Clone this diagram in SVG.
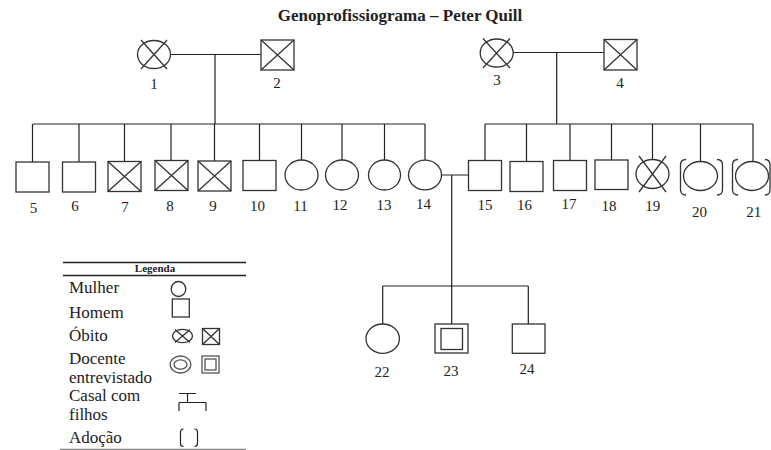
<svg xmlns="http://www.w3.org/2000/svg" width="771" height="450" viewBox="0 0 771 450" font-family="'Liberation Serif', 'Times New Roman', 'DejaVu Serif', serif">
<style>
.s{fill:none;stroke:#333;stroke-width:1.3}
.c{fill:none;stroke:#222;stroke-width:1.2}
.g{fill:none;stroke:#555;stroke-width:1.3}
text{font-family:"Liberation Serif","Times New Roman","DejaVu Serif",serif;fill:#222}
.t{font-size:17px;font-weight:bold;text-anchor:middle}
.n{font-size:15px;text-anchor:middle}
.l{font-size:17px}
.h{font-size:11px;font-weight:bold;text-anchor:middle}
</style>
<rect width="771" height="450" fill="#fff"/>
<text class="t" x="400" y="21">Genoprofissiograma – Peter Quill</text>
<g id="connectors" class="c">
<path d="M170.5,54.5H261M215,54.5V124M33,124H425"/>
<path d="M32.5,124V162M79,124V162M124.5,124V161.5M171,124V160.5M214.5,124V161M259.5,124V160.5M301.5,124V160M342,124V160M384.5,124V160M425,124V160"/>
<path d="M513,52.5H604M556.7,52.5V124M485,124H753"/>
<path d="M485,124V160.5M526.5,124V161.5M570,124V160.5M611.5,124V160M652.5,124V159.5M700.5,124V161.5M753,124V161.5"/>
<path d="M441.5,175H468.5M451.7,175V324M382.7,286H528.3M382.7,286V324M528.3,286V324"/>
</g>
<g id="n1"><ellipse class="s" cx="154" cy="54.5" rx="16.5" ry="14"/><path class="s" d="M141,40L167,69M167,40L141,69"/><text class="n" x="154" y="89">1</text></g>
<g id="n2"><rect class="s" x="261" y="40" width="33" height="30"/><path class="s" d="M261,40L294,70M294,40L261,70"/><text class="n" x="277" y="88">2</text></g>
<g id="n3"><ellipse class="s" cx="496.7" cy="53" rx="16.5" ry="14"/><path class="s" d="M483,38.5L510,68M510,38.5L483,68"/><text class="n" x="497" y="85">3</text></g>
<g id="n4"><rect class="s" x="604" y="39.5" width="33" height="30.5"/><path class="s" d="M604,39.5L637,70M637,39.5L604,70"/><text class="n" x="620" y="88">4</text></g>
<g id="n5"><rect class="s" x="16" y="162" width="33" height="30"/><text class="n" x="33.5" y="212.6">5</text></g>
<g id="n6"><rect class="s" x="62.5" y="162" width="33" height="30"/><text class="n" x="75" y="211.3">6</text></g>
<g id="n7"><rect class="s" x="108" y="161.5" width="33" height="30"/><path class="s" d="M108,161.5L141,191.5M141,161.5L108,191.5"/><text class="n" x="125" y="212">7</text></g>
<g id="n8"><rect class="s" x="155" y="160.5" width="33" height="30"/><path class="s" d="M155,160.5L188,190.5M188,160.5L155,190.5"/><text class="n" x="170" y="211">8</text></g>
<g id="n9"><rect class="s" x="198" y="161" width="33" height="30"/><path class="s" d="M198,161L231,191M231,161L198,191"/><text class="n" x="213" y="211">9</text></g>
<g id="n10"><rect class="s" x="243" y="160.5" width="33" height="30"/><text class="n" x="257.5" y="210.6">10</text></g>
<g id="n11"><ellipse class="s" cx="301.5" cy="175" rx="16.5" ry="15"/><text class="n" x="300.5" y="210.6">11</text></g>
<g id="n12"><ellipse class="s" cx="342" cy="175" rx="16.5" ry="15"/><text class="n" x="340" y="209.6">12</text></g>
<g id="n13"><ellipse class="s" cx="384.5" cy="175" rx="16" ry="15"/><text class="n" x="384" y="210">13</text></g>
<g id="n14"><ellipse class="s" cx="425" cy="175" rx="16.5" ry="14.8"/><text class="n" x="423.6" y="209.3">14</text></g>
<g id="n15"><rect class="s" x="468.5" y="160.5" width="33" height="30"/><text class="n" x="485" y="209.6">15</text></g>
<g id="n16"><rect class="s" x="510" y="161.5" width="33" height="30"/><text class="n" x="524.6" y="210">16</text></g>
<g id="n17"><rect class="s" x="553.5" y="160.5" width="33" height="30"/><text class="n" x="569" y="209.3">17</text></g>
<g id="n18"><rect class="s" x="595" y="160" width="33" height="29.5"/><text class="n" x="609" y="211">18</text></g>
<g id="n19"><ellipse class="s" cx="652.5" cy="174" rx="16.5" ry="14.5"/><path class="s" d="M639,156L666,192M666,156L639,192"/><text class="n" x="652.7" y="210.6">19</text></g>
<g id="n20"><ellipse class="s" cx="700.5" cy="176" rx="17" ry="14.5"/><path class="s" d="M686,159.5Q680.5,159.5 680.5,165V189.5Q680.5,195 686,195M717,159.5Q722.5,159.5 722.5,165V189.5Q722.5,195 717,195"/><text class="n" x="699.5" y="216.6">20</text></g>
<g id="n21"><ellipse class="s" cx="752" cy="176" rx="16.5" ry="14.5"/><path class="s" d="M738,159.5Q732.5,159.5 732.5,165V189.5Q732.5,195 738,195M765,159.5Q770,159.5 770,165V189.5Q770,195 765,195"/><text class="n" x="753.7" y="216.6">21</text></g>
<g id="n22"><ellipse class="s" cx="382.7" cy="338.7" rx="16.7" ry="14.7"/><text class="n" x="382" y="377">22</text></g>
<g id="n23"><rect class="s" x="435" y="324" width="33" height="29"/><rect class="s" x="441" y="328.5" width="21.5" height="21"/><text class="n" x="451" y="376">23</text></g>
<g id="n24"><rect class="s" x="512.3" y="324" width="32.7" height="29.3"/><text class="n" x="527" y="374">24</text></g>
<g id="legend">
<path d="M63,262.5H246" stroke="#222" stroke-width="1.6"/>
<text class="h" x="155" y="271.5">Legenda</text>
<path d="M63,275.5H246" stroke="#222" stroke-width="1.3"/>
<text class="l" x="69" y="293">Mulher</text>
<ellipse class="s" cx="178.5" cy="289" rx="7.3" ry="7.5"/>
<text class="l" x="69" y="318">Homem</text>
<rect class="s" x="172.3" y="299" width="17" height="18"/>
<text class="l" x="69" y="340.7">Óbito</text>
<ellipse class="s" cx="182.5" cy="336" rx="10" ry="6.7"/>
<path class="s" d="M175,329.5L190,342.5M190,329.5L175,342.5"/>
<rect class="s" x="202.5" y="328.5" width="17" height="16"/>
<path class="s" d="M202.5,328.5L219.5,344.5M219.5,328.5L202.5,344.5"/>
<text class="l" x="69" y="363.7">Docente</text>
<text class="l" x="69" y="382.7">entrevistado</text>
<ellipse class="g" cx="180.5" cy="364.5" rx="10.3" ry="8.5"/>
<ellipse class="g" cx="180.5" cy="364.5" rx="6.5" ry="4.7"/>
<rect class="g" x="202" y="356" width="17" height="17"/>
<rect class="g" x="205" y="359" width="11" height="11"/>
<text class="l" x="69" y="401.3">Casal com</text>
<text class="l" x="69" y="420.3">filhos</text>
<path class="c" d="M179,393.5H196M187.5,393.5V402.5M179,402.5H206M179,402.5V411M206,402.5V411"/>
<text class="l" x="69" y="442.7">Adoção</text>
<path class="c" d="M183.5,429Q180.5,429 180.5,432V443.5Q180.5,446.5 183.5,446.5M194.5,429Q197.5,429 197.5,432V443.5Q197.5,446.5 194.5,446.5"/>
<path d="M60,449.3H246" stroke="#888" stroke-width="1.2"/>
</g>
</svg>
